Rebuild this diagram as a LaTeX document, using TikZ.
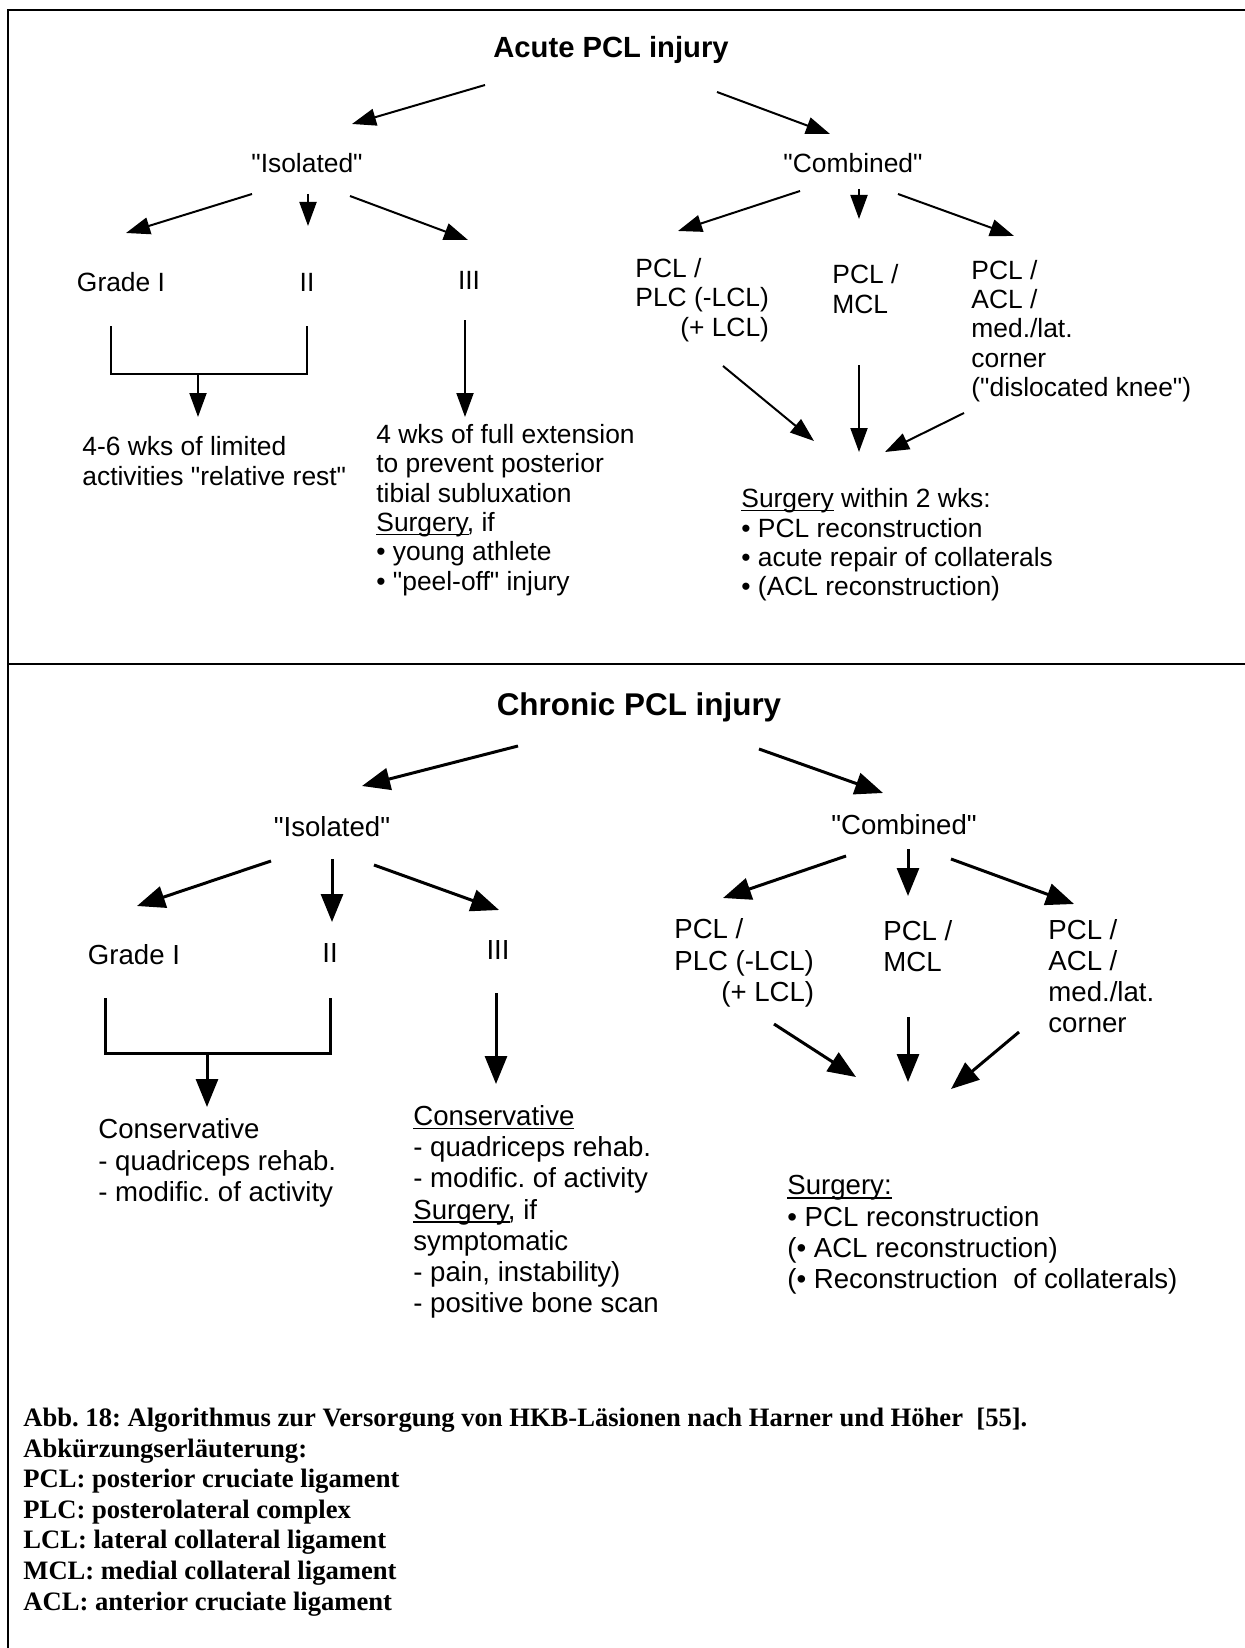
\documentclass[tikz,border=0pt]{standalone}
\usepackage{fontspec}
\newfontfamily\arialfont{Liberation Sans}
\newfontfamily\capfont{Liberation Serif}
\usetikzlibrary{arrows.meta}
% underline that cuts through the descenders, as in the scan
\newcommand\ulword[1]{\setbox0\hbox{#1}\rlap{\rule[-1.8pt]{\wd0}{0.7pt}}#1}

\begin{document}
\frenchspacing
\begin{tikzpicture}[x=0.5pt, y=-0.5pt,
  atxt/.style={font=\arialfont\fontsize{13.2}{14.7}\selectfont, inner sep=0pt},
  ctxt/.style={font=\arialfont\fontsize{13.8}{15.6}\selectfont, inner sep=0pt},
  blk/.style={align=left, anchor=west},
  aarr/.style={line width=1pt, -{Triangle[length=12pt,width=8.5pt]}},
  carr/.style={line width=1.5pt, -{Triangle[length=14pt,width=11pt]}},
  frame/.style={line width=1.3pt}]
  \useasboundingbox (0,0) rectangle (1245,1648);
  % Rahmen
  \draw[frame] (8,1648) -- (8,10) -- (1245,10);
  \draw[frame] (8,664) -- (1245,664);

  % akute Verletzung
  \node[atxt, font=\arialfont\bfseries\fontsize{14.6}{16}\selectfont] (acute) at (611,50) {Acute PCL injury};
  \node[atxt] (aiso)  at (307,163) {"Isolated"};
  \node[atxt] (acomb) at (853,163) {"Combined"};
  \node[atxt] (agI)   at (121,282) {Grade I};
  \node[atxt] (agII)  at (307,282) {II};
  \node[atxt] (agIII) at (469,280) {III};
  \node[atxt, blk] (arest) at (82,461) {4-6 wks of limited\\activities "relative rest"};
  \node[atxt, blk] (aext) at (376,510) {4 wks of full extension\\to prevent posterior\\tibial subluxation\\\ulword{Surgery}, if\\• young athlete\\• "peel-off" injury};
  \node[atxt, blk] (aplc) at (635,300) {PCL /\\PLC (-LCL)\\\hspace*{1.7em}(+ LCL)};
  \node[atxt, blk] (amcl) at (832,289) {PCL /\\MCL};
  \node[atxt, blk] (aacl) at (971,331) {PCL /\\ACL /\\med./lat.\\corner\\("dislocated knee")};
  \node[atxt, blk] (asurg) at (741,545) {\ulword{Surgery} within 2 wks:\\• PCL reconstruction\\• acute repair of collaterals\\• (ACL reconstruction)};

  \foreach \s/\p/\t/\q in {
    acute.center/{-126,35}/aiso.center/{45,-39},
    acute.center/{106,42}/acomb.center/{-23,-29},
    aiso.center/{-55,31}/agI.center/{5,-49},
    aiso.center/{1,31}/agII.center/{1,-56},
    aiso.center/{43,33}/agIII.center/{-1,-40},
    agIII.center/{-4,40}/aext.west/{89,-93},
    acomb.center/{-53,28}/aplc.west/{43,-69},
    acomb.center/{6,26}/amcl.west/{27,-70},
    acomb.center/{45,31}/aacl.west/{43,-95},
    aplc.west/{88,66}/asurg.west/{73,-104},
    amcl.west/{27,76}/asurg.west/{118,-93},
    aacl.west/{-7,82}/asurg.west/{144,-93}}
    \draw[aarr] ([shift={(\p)}]\s) -- ([shift={(\q)}]\t);
  % Klammer Grad I/II
  \draw[line width=1pt] ([shift={(-10,44)}]agI.center) -- ++(0,48) -| ([shift={(0,44)}]agII.center);
  \draw[aarr] ([shift={(77,92)}]agI.center) -- ([shift={(116,-44)}]arest.west);

  % chronische Verletzung
  \node[ctxt, font=\arialfont\bfseries\fontsize{15.7}{17}\selectfont] (chronic) at (639,707) {Chronic PCL injury};
  \node[ctxt] (ciso)  at (332,827) {"Isolated"};
  \node[ctxt] (ccomb) at (904,825) {"Combined"};
  \node[ctxt] (cgI)   at (134,955) {Grade I};
  \node[ctxt] (cgII)  at (330,953) {II};
  \node[ctxt] (cgIII) at (498,950) {III};
  \node[ctxt, blk] (ccons) at (98,1163) {Conservative\\- quadriceps rehab.\\- modific. of activity};
  \node[ctxt, blk] (ccons3) at (413,1212) {\ulword{Conservative}\\- quadriceps rehab.\\- modific. of activity\\\ulword{Surgery}, if\\symptomatic\\- pain, instability)\\- positive bone scan};
  \node[ctxt, blk] (cplc) at (674,963) {PCL /\\PLC (-LCL)\\\hspace*{1.7em}(+ LCL)};
  \node[ctxt, blk] (cmcl) at (883,946) {PCL /\\MCL};
  \node[ctxt, blk] (cacl) at (1048,976) {PCL /\\ACL /\\med./lat.\\corner};
  \node[ctxt, blk] (csurg) at (787,1235) {\ulword{Surgery:}\\• PCL reconstruction\\(• ACL reconstruction)\\(• Reconstruction \ of collaterals)};

  \foreach \s/\p/\t/\q in {
    chronic.center/{-121,39}/ciso.center/{30,-41},
    chronic.center/{120,42}/ccomb.center/{-21,-32},
    ciso.center/{-61,34}/cgI.center/{3,-49},
    ciso.center/{0,32}/cgII.center/{2,-31},
    ciso.center/{42,38}/cgIII.center/{1,-40},
    cgIII.center/{-2,43}/ccons3.west/{83,-128},
    ccomb.center/{-58,31}/cplc.west/{49,-65},
    ccomb.center/{4,24}/cmcl.west/{25,-50},
    ccomb.center/{47,34}/cacl.west/{26,-72},
    cplc.west/{100,61}/csurg.west/{69,-158},
    cmcl.west/{25,71}/csurg.west/{121,-153},
    cacl.west/{-29,56}/csurg.west/{164,-146}}
    \draw[carr] ([shift={(\p)}]\s) -- ([shift={(\q)}]\t);
  % Klammer Grad I/II
  \draw[line width=1.5pt] ([shift={(-29,43)}]cgI.center) -- ++(0,55) -| ([shift={(0,45)}]cgII.center);
  \draw[carr] ([shift={(73,98)}]cgI.center) -- ([shift={(109,-56)}]ccons.west);

  % Bildunterschrift
  \node[inner sep=0pt, align=left, anchor=west, font=\capfont\bfseries\fontsize{13.3}{15.3}\selectfont] (legend) at (23,1512)
    {Abb. 18: Algorithmus zur Versorgung von HKB-Läsionen nach Harner und Höher \ [55].\\Abkürzungserläuterung:\\PCL: posterior cruciate ligament\\PLC: posterolateral complex\\LCL: lateral collateral ligament\\MCL: medial collateral ligament\\ACL: anterior cruciate ligament};
\end{tikzpicture}
\end{document}
